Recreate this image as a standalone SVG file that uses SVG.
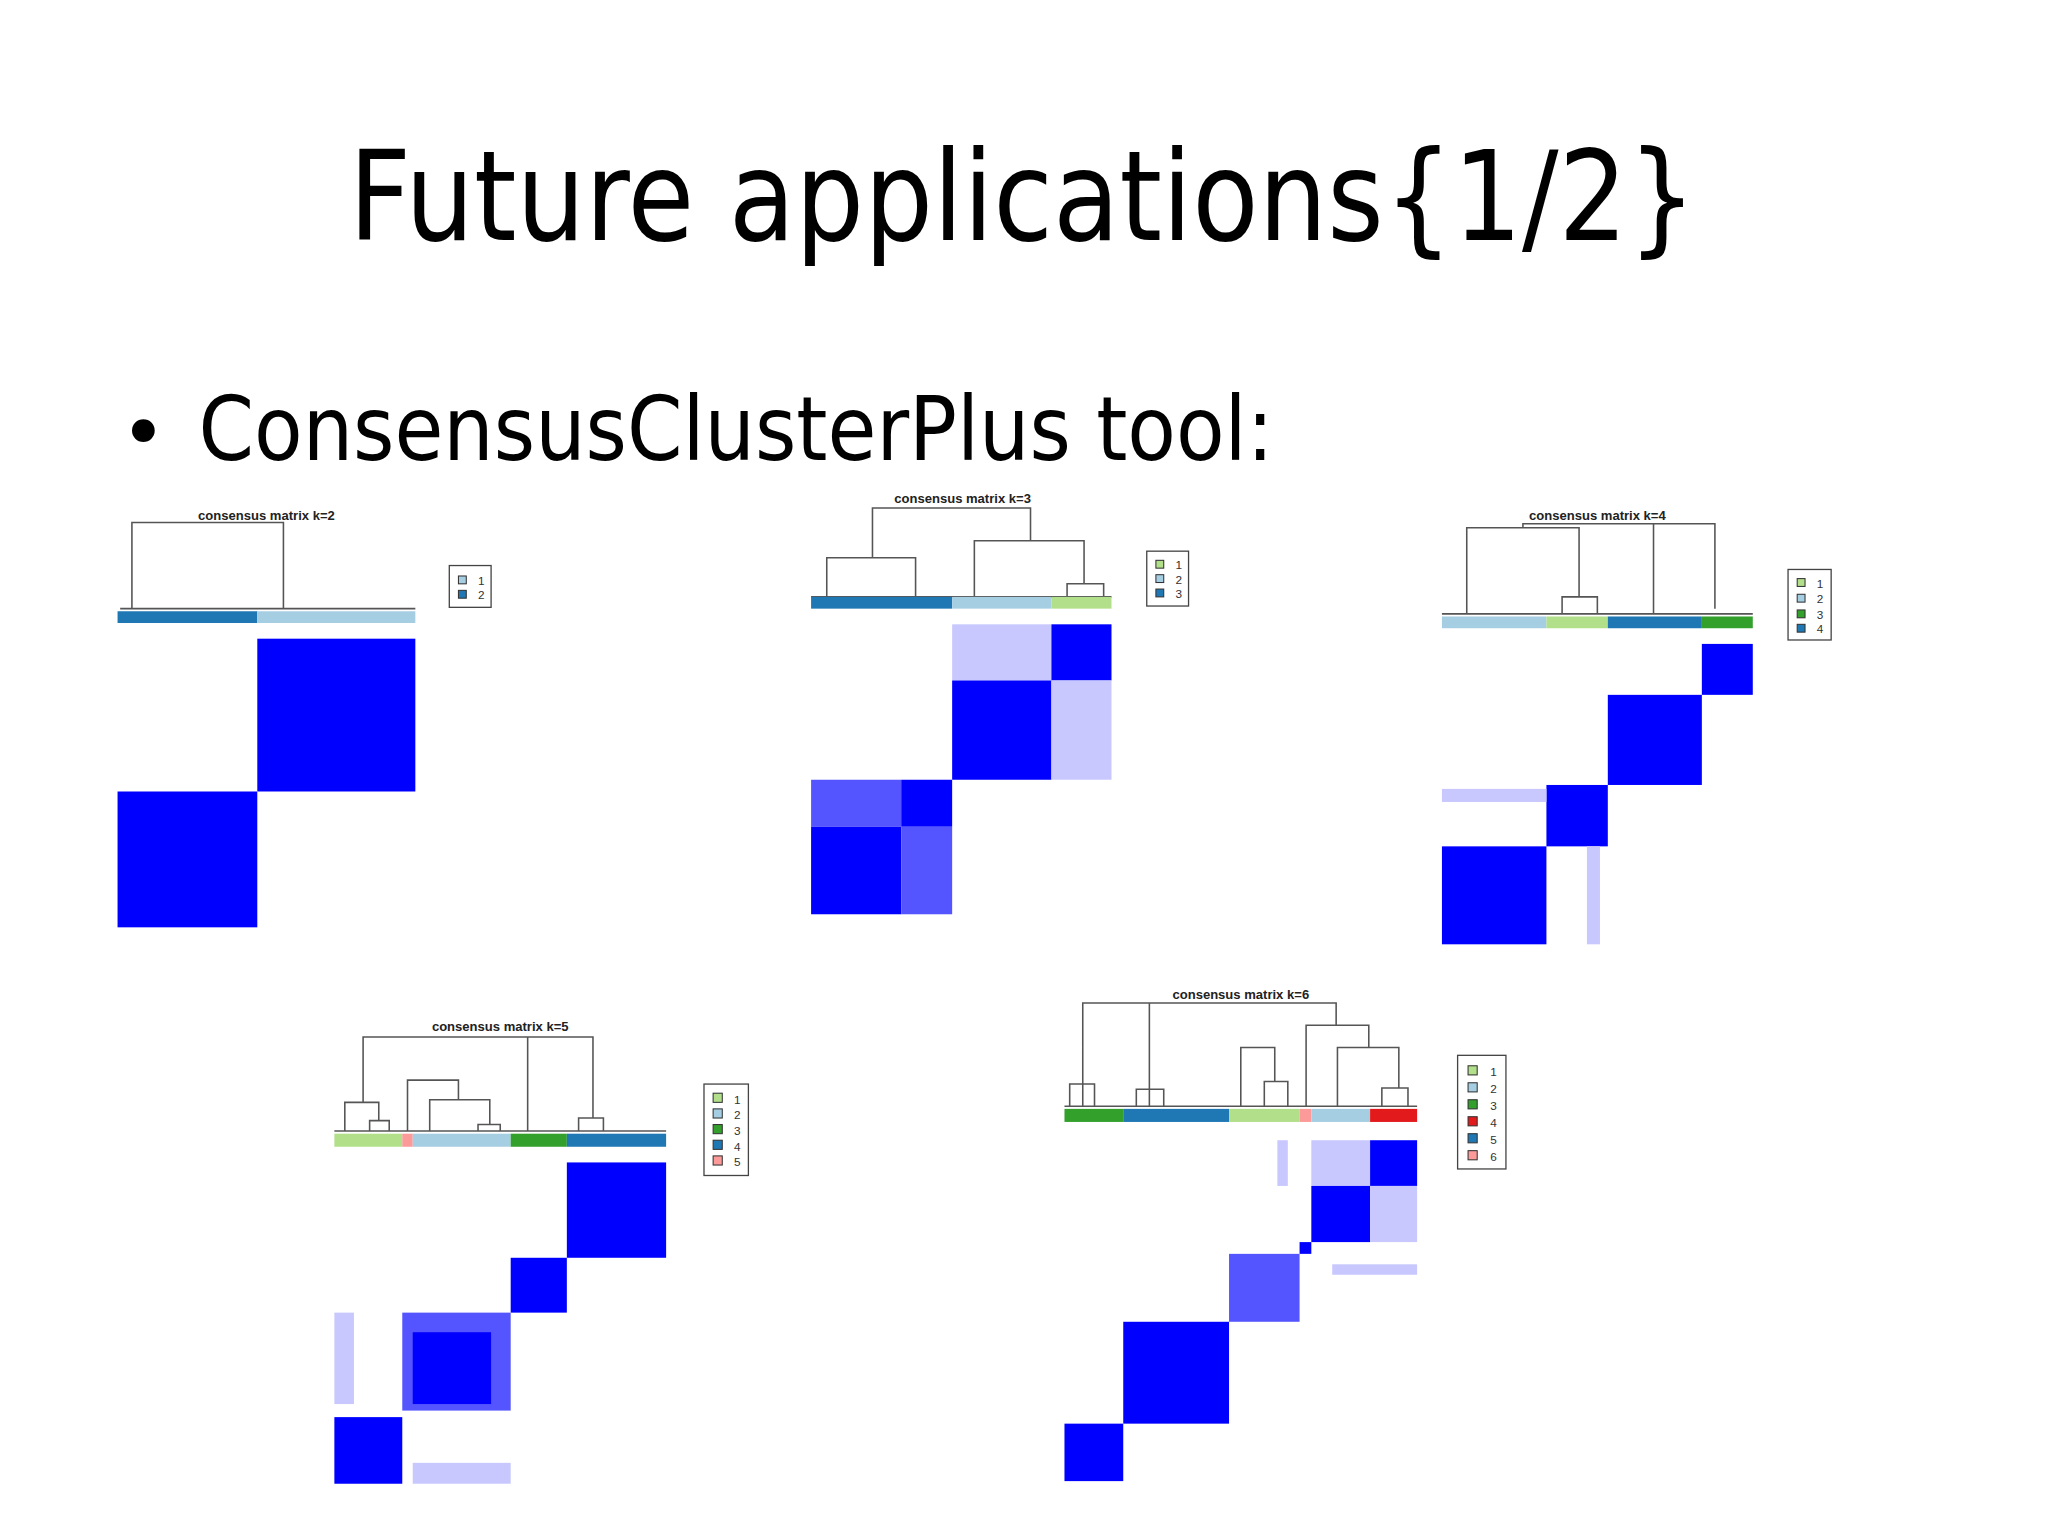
<svg xmlns="http://www.w3.org/2000/svg" width="2048" height="1536" viewBox="0 0 2048 1536">
<style>
.t{font-family:"DejaVu Sans",sans-serif;fill:#000}
.st{font-family:"Liberation Sans",Arial,sans-serif;font-weight:bold;font-size:10px;fill:#222;text-anchor:middle}
.lg{font-family:"Liberation Sans",Arial,sans-serif;font-size:9px;fill:#333}
.d{fill:none;stroke:#555;stroke-width:1.2}
.b{fill:#0000ff}
.m{fill:#5555ff}
.l{fill:#c8c8ff}
.box{fill:#fff;stroke:#444;stroke-width:1}
.lb{fill:#a6cee3}.db{fill:#1f78b4}.lgn{fill:#b2df8a}.gn{fill:#33a02c}.pk{fill:#fb9a99}.rd{fill:#e31a1c}
.sw{stroke:#333;stroke-width:0.8}
</style>
<rect width="2048" height="1536" fill="#fff"/>
<g transform="scale(1.3061)">
<text class="t" x="783" y="184" font-size="96" text-anchor="middle" textLength="1032" lengthAdjust="spacingAndGlyphs">Future applications{1/2}</text>
<text class="t" x="92" y="352" font-size="60">•</text>
<text class="t" x="152" y="352" font-size="68" textLength="823" lengthAdjust="spacingAndGlyphs">ConsensusClusterPlus tool:</text>

<g id="k2">
<text class="st" x="204" y="398">consensus matrix k=2</text>
<path class="d" d="M101 466V400H217V466M92 466H318"/>
<rect class="db" x="90" y="468" width="107" height="9"/><rect class="lb" x="197" y="468" width="121" height="9"/>
<rect class="b" x="197" y="489" width="121" height="117"/><rect class="b" x="90" y="606" width="107" height="104"/>
<rect class="box" x="344" y="433" width="32" height="32"/>
<rect class="lb sw" x="351" y="441" width="6" height="6"/><text class="lg" x="366" y="448">1</text>
<rect class="db sw" x="351" y="452" width="6" height="6"/><text class="lg" x="366" y="459">2</text>
</g>

<g id="k3">
<text class="st" x="737" y="385">consensus matrix k=3</text>
<path class="d" d="M668 427V389H789V414M633 457V427H701V457M746 457V414H830V447M817 457V447H845V457M621 457H851"/>
<rect class="db" x="621" y="457" width="108" height="9"/><rect class="lb" x="729" y="457" width="76" height="9"/><rect class="lgn" x="805" y="457" width="46" height="9"/>
<rect class="l" x="729" y="478" width="76" height="43"/><rect class="b" x="805" y="478" width="46" height="43"/>
<rect class="b" x="729" y="521" width="76" height="76"/><rect class="l" x="805" y="521" width="46" height="76"/>
<rect class="m" x="621" y="597" width="69" height="36"/><rect class="b" x="690" y="597" width="39" height="36"/>
<rect class="b" x="621" y="633" width="69" height="67"/><rect class="m" x="690" y="633" width="39" height="67"/>
<rect class="box" x="878" y="422" width="32" height="42"/>
<rect class="lgn sw" x="885" y="429" width="6" height="6"/><text class="lg" x="900" y="436">1</text>
<rect class="lb sw" x="885" y="440" width="6" height="6"/><text class="lg" x="900" y="447">2</text>
<rect class="db sw" x="885" y="451" width="6" height="6"/><text class="lg" x="900" y="458">3</text>
</g>

<g id="k4">
<text class="st" x="1223" y="398">consensus matrix k=4</text>
<path class="d" d="M1166 404V401H1290V401M1123 470V404H1209V457M1196 470V457H1223V470M1266 470V401H1313V466M1104 470H1342"/>
<rect class="lb" x="1104" y="472" width="80" height="9"/><rect class="lgn" x="1184" y="472" width="47" height="9"/><rect class="db" x="1231" y="472" width="72" height="9"/><rect class="gn" x="1303" y="472" width="39" height="9"/>
<rect class="b" x="1303" y="493" width="39" height="39"/><rect class="b" x="1231" y="532" width="72" height="69"/>
<rect class="b" x="1184" y="601" width="47" height="47"/><rect class="l" x="1104" y="604" width="80" height="10"/><rect class="l" x="1215" y="648" width="10" height="75"/>
<rect class="b" x="1104" y="648" width="80" height="75"/>
<rect class="box" x="1369" y="436" width="33" height="54"/>
<rect class="lgn sw" x="1376" y="443" width="6" height="6"/><text class="lg" x="1391" y="450">1</text>
<rect class="lb sw" x="1376" y="455" width="6" height="6"/><text class="lg" x="1391" y="462">2</text>
<rect class="gn sw" x="1376" y="467" width="6" height="6"/><text class="lg" x="1391" y="474">3</text>
<rect class="db sw" x="1376" y="478" width="6" height="6"/><text class="lg" x="1391" y="485">4</text>
</g>

<g id="k5">
<text class="st" x="383" y="789">consensus matrix k=5</text>
<path class="d" d="M278 844V794H454V856M264 866V844H290V858M283 866V858H298V866M312 866V827H351V842M329 866V842H375V861M366 866V861H383V866M404 866V794M443 866V856H462V866M256 866H510"/>
<rect class="lgn" x="256" y="868" width="52" height="10"/><rect class="pk" x="308" y="868" width="8" height="10"/><rect class="lb" x="316" y="868" width="75" height="10"/><rect class="gn" x="391" y="868" width="43" height="10"/><rect class="db" x="434" y="868" width="76" height="10"/>
<rect class="b" x="434" y="890" width="76" height="73"/><rect class="b" x="391" y="963" width="43" height="42"/>
<rect class="m" x="308" y="1005" width="83" height="75"/><rect class="b" x="316" y="1020" width="60" height="55"/>
<rect class="l" x="256" y="1005" width="15" height="70"/><rect class="l" x="316" y="1120" width="75" height="16"/>
<rect class="b" x="256" y="1085" width="52" height="51"/>
<rect class="box" x="539" y="830" width="34" height="70"/>
<rect class="lgn sw" x="546" y="837" width="7" height="7"/><text class="lg" x="562" y="845">1</text>
<rect class="lb sw" x="546" y="849" width="7" height="7"/><text class="lg" x="562" y="857">2</text>
<rect class="gn sw" x="546" y="861" width="7" height="7"/><text class="lg" x="562" y="869">3</text>
<rect class="db sw" x="546" y="873" width="7" height="7"/><text class="lg" x="562" y="881">4</text>
<rect class="pk sw" x="546" y="885" width="7" height="7"/><text class="lg" x="562" y="893">5</text>
</g>

<g id="k6">
<text class="st" x="950" y="765">consensus matrix k=6</text>
<path class="d" d="M829 847V768H1023V785M819 847V830H838V847M870 847V834H891V847M950 847V802H976V828M1000 847V785H1048V802M1024 847V802H1071V833M968 847V828H986V847M1058 847V833H1078V847M815 847H1085"/>
<path class="d" d="M880 847V768"/>
<rect class="gn" x="815" y="849" width="45" height="10"/><rect class="db" x="860" y="849" width="81" height="10"/><rect class="lgn" x="941" y="849" width="54" height="10"/><rect class="pk" x="995" y="849" width="9" height="10"/><rect class="lb" x="1004" y="849" width="45" height="10"/><rect class="rd" x="1049" y="849" width="36" height="10"/>
<rect class="l" x="1004" y="873" width="45" height="35"/><rect class="b" x="1049" y="873" width="36" height="35"/>
<rect class="b" x="1004" y="908" width="45" height="43"/><rect class="l" x="1049" y="908" width="36" height="43"/>
<rect class="l" x="978" y="873" width="8" height="35"/><rect class="l" x="1020" y="968" width="65" height="8"/>
<rect class="b" x="995" y="951" width="9" height="9"/>
<rect class="m" x="941" y="960" width="54" height="52"/>
<rect class="b" x="860" y="1012" width="81" height="78"/>
<rect class="b" x="815" y="1090" width="45" height="44"/>
<rect class="box" x="1116" y="808" width="37" height="87"/>
<rect class="lgn sw" x="1124" y="816" width="7" height="7"/><text class="lg" x="1141" y="824">1</text>
<rect class="lb sw" x="1124" y="829" width="7" height="7"/><text class="lg" x="1141" y="837">2</text>
<rect class="gn sw" x="1124" y="842" width="7" height="7"/><text class="lg" x="1141" y="850">3</text>
<rect class="rd sw" x="1124" y="855" width="7" height="7"/><text class="lg" x="1141" y="863">4</text>
<rect class="db sw" x="1124" y="868" width="7" height="7"/><text class="lg" x="1141" y="876">5</text>
<rect class="pk sw" x="1124" y="881" width="7" height="7"/><text class="lg" x="1141" y="889">6</text>
</g>
</g>
</svg>
